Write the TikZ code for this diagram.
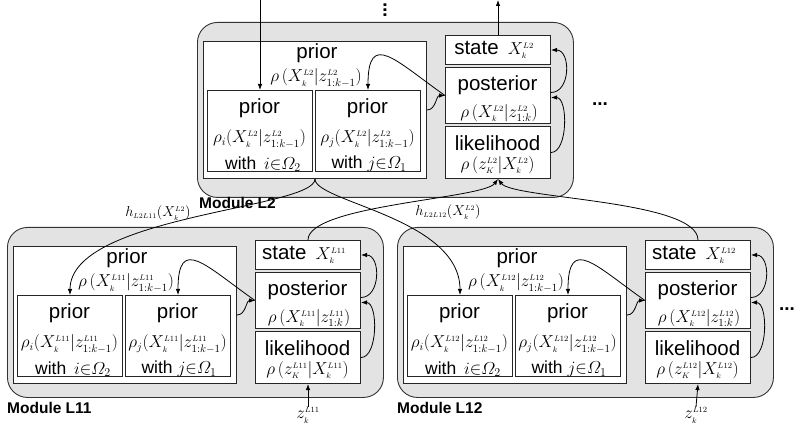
\documentclass[tikz,border=0pt]{standalone}
\usepackage{amsmath}
\usepackage[no-math]{fontspec}
\setmainfont{Liberation Sans}
\usetikzlibrary{arrows.meta,calc}
\newcommand\ssc[1]{{\scriptscriptstyle #1}}
\tikzset{
 modbox/.style={draw=black!80, fill=black!11, line width=0.9pt, rounded corners=20pt, inner sep=0pt, anchor=north west},
 wbox/.style={draw=black!85, fill=white, line width=1pt, inner sep=0pt, anchor=north west},
 head/.style={font=\fontsize{20.5}{22}\selectfont, inner sep=0pt},
 mth/.style={font=\fontsize{16}{17}\selectfont, inner sep=0pt},
 hmth/.style={font=\fontsize{15}{16}\selectfont, inner sep=0pt},
 withtxt/.style={font=\fontsize{17.5}{19}\selectfont, inner sep=0pt},
 modlabel/.style={font=\fontsize{15.5}{17}\selectfont\bfseries, anchor=west, inner sep=0pt},
 arr/.style={-{Latex[length=6pt,width=4.5pt]}, line width=0.8pt},
 dotstxt/.style={font=\fontsize{19}{20}\selectfont\bfseries, inner sep=0pt},
}
\newcommand\drawmod[5]{%
\begin{scope}[shift={(#2,-#3)}]
 \node[modbox, minimum width=376pt, minimum height=#5pt] (#1-m) at (0,0) {};
 \node[wbox, minimum width=223pt, minimum height=137pt] (#1-bp) at (6,-19) {};
 \node[wbox, minimum width=105pt, minimum height=81pt] (#1-pi) at (10,-68) {};
 \node[wbox, minimum width=105pt, minimum height=81pt] (#1-pj) at (118,-68) {};
 \node[wbox, minimum width=105pt, minimum height=29pt] (#1-st) at (248,-13) {};
 \node[wbox, minimum width=105pt, minimum height=56pt] (#1-po) at (248,-45) {};
 \node[wbox, minimum width=105pt, minimum height=52pt] (#1-lk) at (248,-104) {};
 \node[head] (#1-bpt) at (120,-31) {prior};
 \node[mth] (#1-bpm) at (119,-56) {$\rho\,(X^{\ssc{#4}}_{\ssc{k}}|z^{\ssc{#4}}_{1:k-1})$};
 \node[head] (#1-pit) at (62.5,-86) {prior};
 \node[mth] (#1-pim) at (62.5,-117) {$\rho_i(X^{\ssc{#4}}_{\ssc{k}}|z^{\ssc{#4}}_{1:k-1})$};
 \node[withtxt] (#1-piw) at (66,-142) {with \,$i{\in}\varOmega_2$};
 \node[head] (#1-pjt) at (170.5,-86) {prior};
 \node[mth] (#1-pjm) at (170.5,-117) {$\rho_j(X^{\ssc{#4}}_{\ssc{k}}|z^{\ssc{#4}}_{1:k-1})$};
 \node[withtxt] (#1-pjw) at (172,-142) {with $j{\in}\varOmega_1$};
 \node[head] (#1-stt) at (297,-28) {state \,{\fontsize{16}{17}\selectfont$X^{\ssc{#4}}_{\ssc{k}}$}};
 \node[head] (#1-pot) at (300.5,-63) {posterior};
 \node[mth] (#1-pom) at (302,-91) {$\rho\,(X^{\ssc{#4}}_{\ssc{k}}|z^{\ssc{#4}}_{1:k})$};
 \node[head] (#1-lkt) at (300.5,-121) {likelihood};
 \node[mth] (#1-lkm) at (300.5,-143) {$\rho\,(z^{\ssc{#4}}_{\ssc{K}}|X^{\ssc{#4}}_{\ssc{k}})$};
 \draw[arr] (#1-bp.east) to[out=0,in=180] (#1-po.west);
 \draw[arr] (#1-po.west) to[out=145,in=90,looseness=2] (#1-pj.north);
 \draw[arr] (#1-lk.east) to[out=0,in=0,looseness=0.8] ([yshift=-2pt]#1-po.east);
 \draw[arr] ([yshift=3pt]#1-po.east) to[out=0,in=0,looseness=1.2] (#1-st.east);
\end{scope}}
\begin{document}
\begin{tikzpicture}[x=1pt,y=1pt]
\useasboundingbox (0,0) rectangle (803,-427);
\drawmod{L2}{197}{22}{L2}{175}
\drawmod{LA}{7}{227}{L11}{170}
\drawmod{LB}{397}{227}{L12}{170}
\node[modlabel] (lab2) at (199,-203) {Module L2};
\node[modlabel] (labA) at (7,-408) {Module L11};
\node[modlabel] (labB) at (397,-408) {Module L12};
% top in/out
\coordinate (topin) at (L2-pi.north |- 0,0);
\coordinate (topout) at (L2-st.north |- 0,0);
\draw[arr] (topin) -- (L2-pi.north);
\draw[arr] (L2-st.north) -- (topout);
\node[dotstxt, rotate=-90] (vdots) at (385,-10) {...};
\node[dotstxt] (dotsA) at (600,-104) {...};
\node[dotstxt] (dotsB) at (787,-309) {...};
% down connections
\draw[arr] (L2-bp.south) .. controls +(0,-30) and +(0,80) .. (LA-pi.north);
\draw[arr] (L2-bp.south) .. controls +(0,-23) and +(0,77) .. (LB-pi.north);
\node[hmth] (hA) at (158,-213) {$h_{\ssc{L2L11}}(X^{\ssc{L2}}_{\ssc{k}})$};
\node[hmth] (hB) at (448,-212) {$h_{\ssc{L2L12}}(X^{\ssc{L2}}_{\ssc{k}})$};
% up connections
\draw[arr] (LA-st.north) .. controls +(0,35) and +(-15,-20) .. (L2-lk.south);
\draw[arr] (LB-st.north) .. controls +(0,40) and +(15,-20) .. (L2-lk.south);
% observations
\node[mth] (zA) at (308,-415) {$z^{\ssc{L11}}_{\ssc{k}}$};
\node[mth] (zB) at (696,-415) {$z^{\ssc{L12}}_{\ssc{k}}$};
\draw[arr] (zA.north) -- (LA-lk.south);
\draw[arr] (zB.north) -- (LB-lk.south);
\end{tikzpicture}
\end{document}
